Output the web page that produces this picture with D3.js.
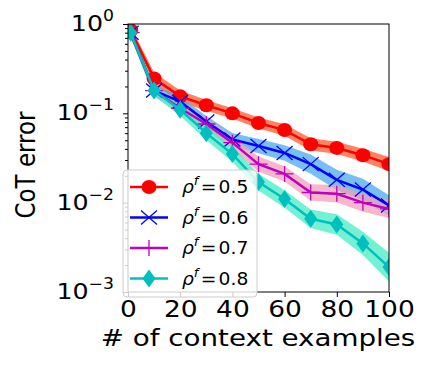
<!DOCTYPE html>
<html>
<head>
<meta charset="utf-8">
<script src="https://cdn.jsdelivr.net/npm/d3@7"></script>
<style>
  body { margin: 0; background: #fff; }
  svg { font-family: "DejaVu Sans", sans-serif; }
</style>
</head>
<body>
<svg width="432" height="366"></svg>
<script>
// x positions (# of context examples)
var xs = [1, 10, 20, 30, 40, 50, 60, 70, 80, 90, 100];

// mean CoT error per rho^f
var err05 = [0.85, 0.245, 0.155, 0.123, 0.100, 0.078, 0.065, 0.045, 0.041, 0.034, 0.027];
var err06 = [0.80, 0.180, 0.135, 0.081, 0.051, 0.043, 0.036, 0.027, 0.018, 0.014, 0.0093];
var err07 = [0.80, 0.180, 0.114, 0.076, 0.047, 0.027, 0.021, 0.013, 0.0126, 0.010, 0.0085];
var err08 = [0.80, 0.180, 0.110, 0.060, 0.035, 0.017, 0.011, 0.0066, 0.0057, 0.0035, 0.0019];

// relative half-width of the shaded band
var spread05 = [0.12, 0.17, 0.16, 0.15, 0.14, 0.15, 0.16, 0.17, 0.17, 0.18, 0.2];
var spread06 = [0.12, 0.15, 0.14, 0.15, 0.18, 0.2, 0.22, 0.28, 0.3, 0.32, 0.3];
var spread07 = [0.12, 0.15, 0.16, 0.17, 0.18, 0.22, 0.22, 0.24, 0.25, 0.26, 0.26];
var spread08 = [0.12, 0.15, 0.17, 0.2, 0.22, 0.24, 0.25, 0.27, 0.3, 0.35, 0.45];

var labels = ["0.5", "0.6", "0.7", "0.8"];
var xTicks = [0, 20, 40, 60, 80, 100];
var yTicks = [1e-3, 1e-2, 1e-1, 1];

var series = [
  {label: labels[0], y: err05, s: spread05, color: "#ff0000", band: "#ff5a2e", marker: "circle"},
  {label: labels[1], y: err06, s: spread06, color: "#0000ff", band: "#4aa8ee", marker: "x"},
  {label: labels[2], y: err07, s: spread07, color: "#bf00bf", band: "#f2a0b8", marker: "plus"},
  {label: labels[3], y: err08, s: spread08, color: "#00bfbf", band: "#45ecc4", marker: "diamond"}
];

// plot box (text in the source image is stretched sideways a bit)
var pLeft = 128, pRight = 389, pTop = 24, pBottom = 292;
var stretch = 1.15;

var svg = d3.select("svg");

var x = d3.scaleLinear().domain([0, 100]).range([pLeft, pRight]);
var y = d3.scaleLog().domain([1e-3, 1]).range([pBottom, pTop]);

svg.append("defs").append("clipPath").attr("id", "clip")
  .append("rect").attr("x", pLeft).attr("y", pTop)
  .attr("width", pRight - pLeft).attr("height", pBottom - pTop);

var plot = svg.append("g").attr("clip-path", "url(#clip)");

var area = d3.area()
  .x(function(d) { return x(d.x); })
  .y0(function(d) { return y(d.lo); })
  .y1(function(d) { return y(d.hi); });

var line = d3.line()
  .x(function(d) { return x(d.x); })
  .y(function(d) { return y(d.v); });

function drawMarker(g, type, color) {
  if (type == "circle") {
    g.append("ellipse").attr("rx", 7.5).attr("ry", 7).attr("fill", color);
  } else if (type == "x") {
    g.append("path").attr("d", "M-8,-7L8,7M-8,7L8,-7")
      .attr("stroke", color).attr("stroke-width", 1.3).attr("fill", "none");
  } else if (type == "plus") {
    g.append("path").attr("d", "M-9,0L9,0M0,-8L0,8")
      .attr("stroke", color).attr("stroke-width", 1.3).attr("fill", "none");
  } else {
    g.append("path").attr("d", "M0,-9L6.5,0L0,9L-6.5,0Z").attr("fill", color);
  }
}

// bands first
series.forEach(function(s) {
  var pts = xs.map(function(xv, i) {
    return {x: xv, v: s.y[i], lo: s.y[i] / (1 + s.s[i]), hi: s.y[i] * (1 + s.s[i])};
  });
  s.pts = pts;
  plot.append("path").datum(pts)
    .attr("d", area)
    .attr("fill", s.band)
    .attr("fill-opacity", 0.75);
});

series.forEach(function(s) {
  plot.append("path").datum(s.pts)
    .attr("d", line)
    .attr("fill", "none")
    .attr("stroke", s.color)
    .attr("stroke-width", 2.5);
  s.pts.forEach(function(p) {
    var g = plot.append("g").attr("transform", "translate(" + x(p.x) + "," + y(p.v) + ")");
    drawMarker(g, s.marker, s.color);
  });
});

// frame
svg.append("rect").attr("x", pLeft).attr("y", pTop)
  .attr("width", pRight - pLeft).attr("height", pBottom - pTop)
  .attr("fill", "none").attr("stroke", "#000").attr("stroke-width", 1);

// x axis
var xAxis = svg.append("g")
  .attr("transform", "translate(0," + pBottom + ")")
  .call(d3.axisBottom(x).tickValues(xTicks).tickSize(5).tickPadding(3));
xAxis.select(".domain").remove();
xAxis.selectAll("line").attr("stroke", "#000");
xAxis.selectAll("text")
  .attr("font-size", 23).attr("fill", "#000")
  .attr("font-family", "DejaVu Sans")
  .attr("dy", null).attr("y", 25)
  .attr("transform", "scale(" + stretch + ",1)");

// y axis with minor ticks
var minor = [];
[1e-3, 1e-2, 1e-1].forEach(function(d) {
  for (var k = 2; k <= 9; k++) minor.push(d * k);
});
var yMinor = svg.append("g").attr("transform", "translate(" + pLeft + ",0)")
  .call(d3.axisLeft(y).tickValues(minor).tickSize(3).tickFormat(""));
yMinor.select(".domain").remove();
yMinor.selectAll("line").attr("stroke", "#000");

var yAxis = svg.append("g").attr("transform", "translate(" + pLeft + ",0)")
  .call(d3.axisLeft(y).tickValues(yTicks).tickSize(5).tickFormat(""));
yAxis.select(".domain").remove();
yAxis.selectAll("line").attr("stroke", "#000");

yTicks.forEach(function(t) {
  var e = Math.round(Math.log10(t));
  var txt = svg.append("text")
    .attr("transform", "translate(" + (pLeft - 14) + "," + (y(t) + 7) + ") scale(" + stretch + ",1)")
    .attr("text-anchor", "end")
    .attr("font-size", 22).attr("fill", "#000");
  txt.append("tspan").text("10");
  txt.append("tspan").attr("dy", -10).attr("font-size", 15)
    .text(e == 0 ? "0" : "\u2212" + Math.abs(e));
});

// axis labels
svg.append("text")
  .attr("transform", "translate(" + 258 + ",346) scale(1.18,1)")
  .attr("text-anchor", "middle").attr("font-size", 23.5).attr("fill", "#000")
  .text("# of context examples");

svg.append("text")
  .attr("transform", "translate(35,165) scale(" + stretch + ",1) rotate(-90)")
  .attr("text-anchor", "middle").attr("font-size", 23).attr("fill", "#000")
  .text("CoT error");

// legend
var leg = svg.append("g");
leg.append("rect")
  .attr("x", 123).attr("y", 170).attr("width", 134).attr("height", 127)
  .attr("rx", 4)
  .attr("fill", "#fff").attr("fill-opacity", 0.8)
  .attr("stroke", "#ccc").attr("stroke-width", 1);

series.forEach(function(s, i) {
  var cy = 187 + i * 30.5;
  leg.append("line").attr("x1", 130).attr("x2", 168)
    .attr("y1", cy).attr("y2", cy)
    .attr("stroke", s.color).attr("stroke-width", 2.5);
  var g = leg.append("g").attr("transform", "translate(149," + cy + ")");
  drawMarker(g, s.marker, s.color);
  var t = leg.append("text")
    .attr("transform", "translate(182," + (cy + 6) + ") scale(1.1,1)")
    .attr("font-size", 17).attr("fill", "#000");
  t.append("tspan").attr("font-style", "italic").text("\u03C1");
  t.append("tspan").attr("font-style", "italic").attr("font-size", 12).attr("dy", -8).text("f");
  t.append("tspan").attr("dy", 8).attr("dx", 2).text("=");
  t.append("tspan").attr("dx", 2).text(s.label);
});
</script>
</body>
</html>
